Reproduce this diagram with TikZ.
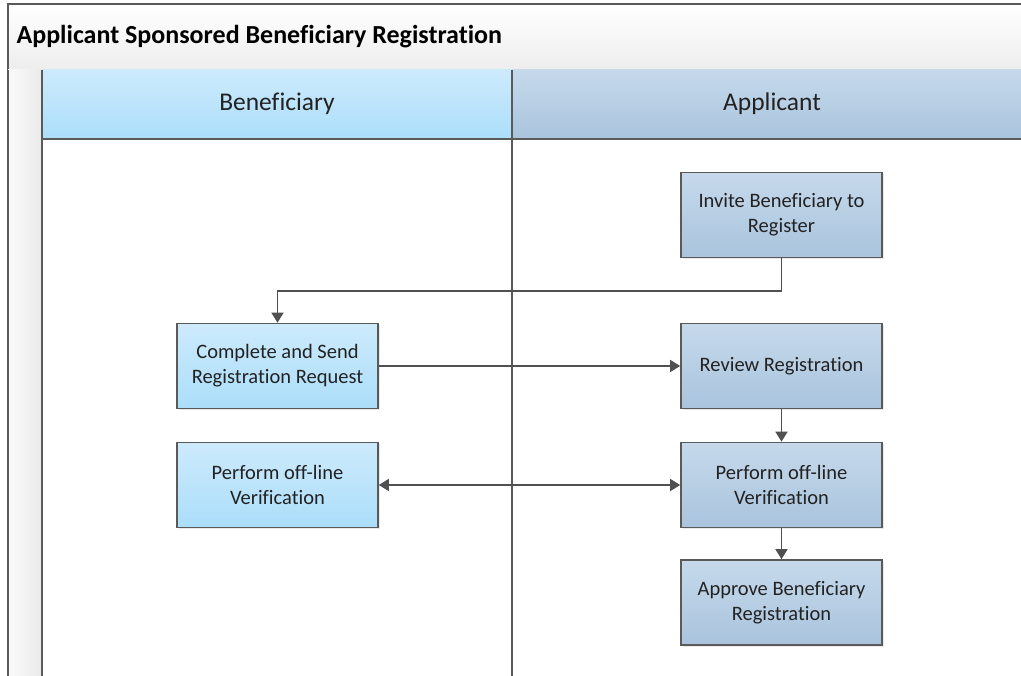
\documentclass[tikz,border=0pt]{standalone}
\usepackage{fontspec}
\setmainfont{Carlito}[Ligatures=NoCommon]
\usetikzlibrary{arrows.meta,shadows}

\definecolor{edge}{HTML}{5A5A5A}
\definecolor{wire}{HTML}{505050}
\definecolor{ink}{HTML}{222222}
\definecolor{benTop}{HTML}{CDEAFC}
\definecolor{benBot}{HTML}{ABDEFA}
\definecolor{appTop}{HTML}{C6D9EB}
\definecolor{appBot}{HTML}{A9C4DD}

\tikzset{
  task/.style={draw=edge, line width=1.6pt, minimum width=201pt, minimum height=85pt,
    align=center, text=ink, font=\fontsize{20.5}{25}\selectfont,
    drop shadow={shadow xshift=1.5pt, shadow yshift=-1.5pt, fill=black!18, opacity=.5}},
  bentask/.style={task, top color=benTop, bottom color=benBot},
  apptask/.style={task, top color=appTop, bottom color=appBot},
  flow/.style={draw=wire, line width=1.5pt, -{Triangle[length=10pt,width=12pt]}},
  twoway/.style={draw=wire, line width=1.5pt, {Triangle[length=10pt,width=12pt]}-{Triangle[length=10pt,width=12pt]}},
  laneline/.style={draw=edge, line width=1.6pt},
  lanehead/.style={font=\fontsize{25.5}{30}\selectfont, text=ink}
}

\begin{document}
\begin{tikzpicture}[x={(1pt,0)}, y={(0,-1pt)}]
  \useasboundingbox (0,0) rectangle (1021,676);

  % pool title band
  \shade[top color=white, bottom color=black!7] (8,4) rectangle (1040,70);
  \draw[laneline] (1040,4) -- (8,4) -- (8,690);
  \draw[laneline] (8,70) -- (1040,70);
  \node[anchor=west, font=\bfseries\fontsize{26}{31}\selectfont, text=black] (title) at (13,37)
    {Applicant Sponsored Beneficiary Registration};

  % left strip of the pool
  \shade[left color=black!2, right color=black!8] (8,70) rectangle (42,690);

  % lane headers
  \shade[top color=benTop, bottom color=benBot] (42,70) rectangle (512,139);
  \shade[top color=appTop, bottom color=appBot] (512,70) rectangle (1032,139);
  \draw[laneline] (42,139) -- (1040,139);
  \draw[laneline] (42,70) -- (42,690);
  \draw[laneline] (512,70) -- (512,690);
  \draw[laneline] (8,70) -- (8,690);
  \node[lanehead] (benhead) at (277,104) {Beneficiary};
  \node[lanehead] (apphead) at (772,104) {Applicant};

  % tasks
  \node[apptask] (invite)   at (781.5,215)   {Invite Beneficiary to\\Register};
  \node[bentask] (complete) at (277.5,366)   {Complete and Send\\Registration Request};
  \node[apptask] (review)   at (781.5,366)   {Review Registration};
  \node[bentask] (verB)     at (277.5,485)   {Perform off-line\\Verification};
  \node[apptask] (verA)     at (781.5,485)   {Perform off-line\\Verification};
  \node[apptask] (approve)  at (781.5,602.5) {Approve Beneficiary\\Registration};

  % connectors
  \coordinate (turn) at (0,291);
  \draw[flow] (invite.south) -- (invite.south |- turn) -| (complete.north);
  \draw[flow] (complete.east) -- (review.west);
  \draw[flow] (review.south) -- (verA.north);
  \draw[twoway] (verB.east) -- (verA.west);
  \draw[flow] (verA.south) -- (approve.north);
\end{tikzpicture}
\end{document}
